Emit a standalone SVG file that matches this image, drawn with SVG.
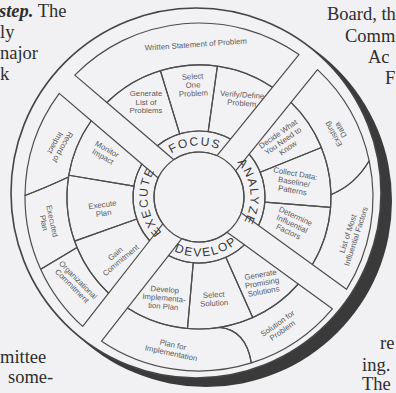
<svg xmlns="http://www.w3.org/2000/svg" width="396" height="393" viewBox="0 0 396 393">
<style>
.ln{fill:none;stroke:#4d4d4d;stroke-width:1.2;stroke-linejoin:round}
.t{font-family:"Liberation Sans",Arial,sans-serif;font-size:7.8px;fill:#5a5a5a;text-anchor:middle}
.lb{font-family:"Liberation Sans",Arial,sans-serif;font-size:12px;fill:#353535;letter-spacing:1.6px}
.pg{font-family:"Liberation Serif","Times New Roman",serif;font-size:18.5px;fill:#2e2e2e}
</style>
<defs>
<path id="pF" d="M152.52,174.83 A51.5,51.5 0 0 1 241.44,167.83"/>
<path id="pA" d="M219.95,149.95 A51.5,51.5 0 0 1 229.27,238.66"/>
<path id="pD" d="M152.11,233.63 A59.5,59.5 0 0 0 254.17,219.29"/>
<path id="pE" d="M178.05,244.05 A51.5,51.5 0 0 1 168.73,155.34"/>
</defs>
<rect width="396" height="393" fill="#f1f1f3"/>
<g id="page-text">
<text class="pg" x="-1" y="17"><tspan font-weight="bold" font-style="italic">step.</tspan> The</text>
<text class="pg" x="0" y="38">ly</text>
<text class="pg" x="0" y="59">najor</text>
<text class="pg" x="0" y="80">k</text>
<text class="pg" x="327" y="20">Board, th</text>
<text class="pg" x="345" y="42">Comm</text>
<text class="pg" x="368" y="63">Ac</text>
<text class="pg" x="385" y="84">F</text>
<text class="pg" x="0" y="363">mittee</text>
<text class="pg" x="8" y="383">some-</text>
<text class="pg" x="380" y="349">re</text>
<text class="pg" x="362" y="371">ing.</text>
<text class="pg" x="362" y="390">The</text>
</g>
<g id="wheel-frame">
<circle cx="206" cy="201" r="186" fill="#3a3a3a"/>
<circle cx="196" cy="193" r="185" fill="#f2f2f4" stroke="#444" stroke-width="1.6"/>
<circle class="ln" cx="199" cy="197" r="45"/>
</g>
<g id="focus">
<path class="ln" d="M157.44,145.72 A66,66 0 0 1 230.52,139.01 L216.96,155.74 A45,45 0 0 0 173.82,159.70 Z"/>
<text class="lb"><textPath href="#pF" startOffset="50%" text-anchor="middle">FOCUS</textPath></text>
</g>
<g id="generate-list">
<path class="ln" d="M106.85,102.49 A132,132 0 0 1 160.40,70.77 L179.70,133.88 A66,66 0 0 0 157.44,145.72 Z"/>
<text class="t" transform="translate(146,102)"><tspan x="0" y="-5.9">Generate</tspan><tspan x="0" y="2.6">List of</tspan><tspan x="0" y="11.1">Problems</tspan></text>
</g>
<g id="select-problem">
<path class="ln" d="M160.40,70.77 A132,132 0 0 1 217.37,66.28 L208.19,131.64 A66,66 0 0 0 179.70,133.88 Z"/>
<text class="t" transform="translate(193,85) rotate(-3)"><tspan x="0" y="-5.9">Select</tspan><tspan x="0" y="2.6">One</tspan><tspan x="0" y="11.1">Problem</tspan></text>
</g>
<g id="verify-problem">
<path class="ln" d="M217.37,66.28 A132,132 0 0 1 272.39,87.28 L230.52,139.01 A66,66 0 0 0 208.19,131.64 Z"/>
<text class="t" transform="translate(242,99) rotate(4)"><tspan x="0" y="-1.65">Verify/Define</tspan><tspan x="0" y="6.85">Problem</tspan></text>
</g>
<g id="written-statement">
<path class="ln" d="M74.78,75.15 A174,174 0 0 1 298.93,54.55 L272.39,87.28 A132,132 0 0 0 106.85,102.49 Z"/>
<text class="t" transform="translate(196,47) rotate(-4)">Written Statement of Problem</text>
</g>
<g id="analyze">
<path class="ln" d="M249.18,154.12 A66,66 0 0 1 258.56,225.43 L241.14,212.78 A45,45 0 0 0 235.62,170.85 Z"/>
<text class="lb"><textPath href="#pA" startOffset="50%" text-anchor="middle">ANALYZE</textPath></text>
</g>
<g id="decide">
<path class="ln" d="M291.04,102.38 A132,132 0 0 1 321.39,147.55 L260.19,172.28 A66,66 0 0 0 249.18,154.12 Z"/>
<text class="t" transform="translate(283,141) rotate(-35)"><tspan x="0" y="-5.9">Decide What</tspan><tspan x="0" y="2.6">You Need to</tspan><tspan x="0" y="11.1">Know</tspan></text>
</g>
<g id="collect">
<path class="ln" d="M321.39,147.55 A132,132 0 0 1 330.59,207.36 L264.80,202.18 A66,66 0 0 0 260.19,172.28 Z"/>
<text class="t" transform="translate(294,182) rotate(10)"><tspan x="0" y="-5.9">Collect Data:</tspan><tspan x="0" y="2.6">Baseline/</tspan><tspan x="0" y="11.1">Patterns</tspan></text>
</g>
<g id="determine">
<path class="ln" d="M330.59,207.36 A132,132 0 0 1 312.40,264.56 L258.56,225.43 A66,66 0 0 0 264.80,202.18 Z"/>
<text class="t" transform="translate(292,224) rotate(25)"><tspan x="0" y="-5.9">Determine</tspan><tspan x="0" y="2.6">Influential</tspan><tspan x="0" y="11.1">Factors</tspan></text>
</g>
<g id="existing-data">
<path class="ln" d="M317.51,69.60 A174,174 0 0 1 369.20,160.82 Q355,185 330.98,194.70 A132,132 0 0 0 291.04,102.38 Z"/>
<text class="t" transform="translate(337,132) rotate(-120)"><tspan x="0" y="-1.65">Existing</tspan><tspan x="0" y="6.85">Data</tspan></text>
</g>
<g id="list-factors">
<path class="ln" d="M369.20,160.82 A174,174 0 0 1 346.48,289.32 L312.40,264.56 A132,132 0 0 0 330.98,194.70 Q355,185 369.20,160.82 Z"/>
<text class="t" transform="translate(352,235) rotate(-72)"><tspan x="0" y="-1.65">List of Most</tspan><tspan x="0" y="6.85">Influential Factors</tspan></text>
</g>
<g id="develop">
<path class="ln" d="M244.45,244.85 A66,66 0 0 1 168.50,255.53 L181.76,238.57 A45,45 0 0 0 227.03,232.20 Z"/>
<text class="lb"><textPath href="#pD" startOffset="50%" text-anchor="middle">DEVELOP</textPath></text>
</g>
<g id="generate-solutions">
<path class="ln" d="M298.26,284.00 A132,132 0 0 1 252.69,317.58 L225.84,257.29 A66,66 0 0 0 244.45,244.85 Z"/>
<text class="t" transform="translate(262,283) rotate(-10)"><tspan x="0" y="-5.9">Generate</tspan><tspan x="0" y="2.6">Promising</tspan><tspan x="0" y="11.1">Solutions</tspan></text>
</g>
<g id="select-solution">
<path class="ln" d="M252.69,317.58 A132,132 0 0 1 187.49,328.50 L193.25,262.75 A66,66 0 0 0 225.84,257.29 Z"/>
<text class="t" transform="translate(214,299) rotate(-3)"><tspan x="0" y="-1.65">Select</tspan><tspan x="0" y="6.85">Solution</tspan></text>
</g>
<g id="develop-plan">
<path class="ln" d="M187.49,328.50 A132,132 0 0 1 127.54,307.99 L168.50,255.53 A66,66 0 0 0 193.25,262.75 Z"/>
<text class="t" transform="translate(164,298) rotate(5)"><tspan x="0" y="-5.9">Develop</tspan><tspan x="0" y="2.6">Implementa-</tspan><tspan x="0" y="11.1">tion Plan</tspan></text>
</g>
<g id="solution-for-problem">
<path class="ln" d="M332.35,308.78 A174,174 0 0 1 251.33,362.94 Q246,330 219.65,327.38 A132,132 0 0 0 298.26,284.00 Z"/>
<text class="t" transform="translate(280,327) rotate(-35)"><tspan x="0" y="-1.65">Solution for</tspan><tspan x="0" y="6.85">Problem</tspan></text>
</g>
<g id="plan-for-implementation">
<path class="ln" d="M251.33,362.94 A174,174 0 0 1 101.58,341.18 L127.54,307.99 A132,132 0 0 0 219.65,327.38 Q246,330 251.33,362.94 Z"/>
<text class="t" transform="translate(172,349) rotate(12)"><tspan x="0" y="-1.65">Plan for</tspan><tspan x="0" y="6.85">Implementation</tspan></text>
</g>
<g id="execute">
<path class="ln" d="M149.59,240.75 A66,66 0 0 1 141.86,163.98 L158.23,177.96 A45,45 0 0 0 162.85,223.79 Z"/>
<text class="lb"><textPath href="#pE" startOffset="50%" text-anchor="middle">EXECUTE</textPath></text>
</g>
<g id="gain-commitment">
<path class="ln" d="M108.62,293.20 A132,132 0 0 1 74.58,241.06 L136.79,219.03 A66,66 0 0 0 149.59,240.75 Z"/>
<text class="t" transform="translate(118,257) rotate(-40)"><tspan x="0" y="-1.65">Gain</tspan><tspan x="0" y="6.85">Commitment</tspan></text>
</g>
<g id="execute-plan">
<path class="ln" d="M74.58,241.06 A132,132 0 0 1 68.81,175.22 L133.90,186.11 A66,66 0 0 0 136.79,219.03 Z"/>
<text class="t" transform="translate(103,209) rotate(-8)"><tspan x="0" y="-1.65">Execute</tspan><tspan x="0" y="6.85">Plan</tspan></text>
</g>
<g id="monitor-impact">
<path class="ln" d="M68.81,175.22 A132,132 0 0 1 91.24,120.76 L141.86,163.98 A66,66 0 0 0 133.90,186.11 Z"/>
<text class="t" transform="translate(105,153) rotate(30)"><tspan x="0" y="-1.65">Monitor</tspan><tspan x="0" y="6.85">Impact</tspan></text>
</g>
<g id="organizational-commitment">
<path class="ln" d="M82.68,326.40 A174,174 0 0 1 40.66,269.16 L77.04,247.52 A132,132 0 0 0 108.62,293.20 Z"/>
<text class="t" transform="translate(75,283) rotate(45)"><tspan x="0" y="-1.65">Organizational</tspan><tspan x="0" y="6.85">Commitment</tspan></text>
</g>
<g id="executed-plan">
<path class="ln" d="M40.66,269.16 A174,174 0 0 1 25.0,195.5 Q45,188 68.52,177.03 A132,132 0 0 0 77.04,247.52 Z"/>
<text class="t" transform="translate(48,222) rotate(78)"><tspan x="0" y="-1.65">Executed</tspan><tspan x="0" y="6.85">Plan</tspan></text>
</g>
<g id="record-impact">
<path class="ln" d="M25.0,195.5 A174,174 0 0 1 59.26,93.35 L91.24,120.76 A132,132 0 0 0 68.52,177.03 Q45,188 25.0,195.5 Z"/>
<text class="t" transform="translate(59,145) rotate(120)"><tspan x="0" y="-1.65">Record of</tspan><tspan x="0" y="6.85">Impact</tspan></text>
</g>
</svg>
